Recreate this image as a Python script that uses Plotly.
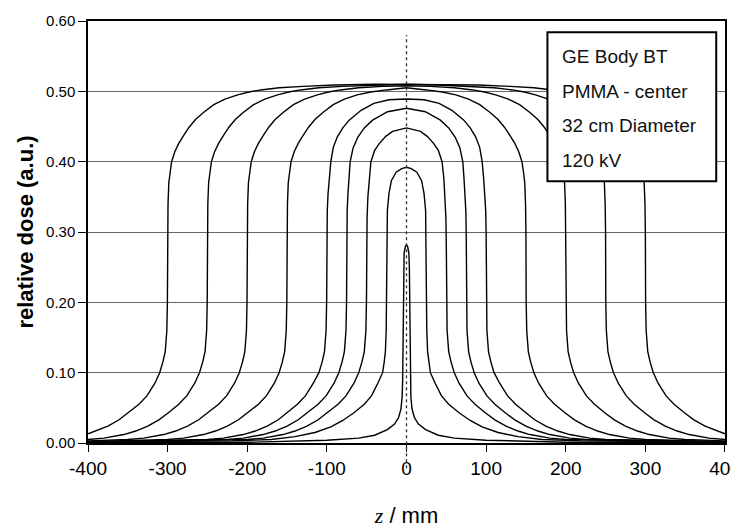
import plotly.graph_objects as go

# ---- data: left half (z <= 0) of each symmetric dose profile ----
z_w300 = [-400, -375, -361, -349, -336, -326, -316, -310, -306, -303, -301, -300.3, -300,
          -299.5, -298.5, -297, -295, -291, -286, -280, -273, -265, -255, -242, -228, -212,
          -198, -183, -160, -130, -90, -40, 0]
d_w300 = [0.013, 0.024, 0.033, 0.043, 0.055, 0.067, 0.085, 0.10, 0.115, 0.13, 0.16, 0.20, 0.30,
          0.34, 0.37, 0.385, 0.40, 0.414, 0.426, 0.437, 0.449, 0.460, 0.470, 0.481, 0.489, 0.495,
          0.499, 0.502, 0.505, 0.507, 0.509, 0.51, 0.51]

z_w250 = [-400, -380, -355, -340, -325, -311, -299, -286, -276, -266, -260, -256, -253, -251, -250.3, -250,
          -249.5, -248.5, -247, -245, -241, -236, -230, -223, -215, -205, -192, -178, -162, -148,
          -133, -110, -80, -40, 0]
d_w250 = [0.005, 0.007, 0.012, 0.017, 0.024, 0.033, 0.043, 0.055, 0.067, 0.085, 0.10, 0.115, 0.13, 0.16, 0.20, 0.30,
          0.34, 0.37, 0.385, 0.40, 0.414, 0.426, 0.437, 0.449, 0.460, 0.470, 0.481, 0.489, 0.495, 0.499,
          0.502, 0.505, 0.507, 0.509, 0.51]

z_w200 = [-400, -350, -330, -305, -290, -275, -261, -249, -236, -226, -216, -210, -206, -203, -201, -200.3, -200,
          -199.5, -198.5, -197, -195, -191, -186, -180, -173, -165, -155, -142, -128, -112, -98, -83,
          -60, -30, 0]
d_w200 = [0.003, 0.005, 0.007, 0.012, 0.017, 0.024, 0.033, 0.043, 0.055, 0.067, 0.085, 0.10, 0.115, 0.13, 0.16, 0.20, 0.30,
          0.34, 0.37, 0.385, 0.40, 0.414, 0.426, 0.437, 0.449, 0.460, 0.470, 0.481, 0.489, 0.495, 0.499, 0.502,
          0.505, 0.507, 0.508]

z_w150 = [-400, -300, -280, -255, -240, -225, -211, -199, -186, -176, -166, -160, -156, -153, -151, -150.3, -150,
          -149.5, -148.5, -147, -145, -141, -136, -130, -123, -115, -105, -92, -78, -62, -45, -25, 0]
d_w150 = [0.002, 0.005, 0.007, 0.012, 0.017, 0.024, 0.033, 0.043, 0.055, 0.067, 0.085, 0.10, 0.115, 0.13, 0.16, 0.20, 0.30,
          0.34, 0.37, 0.385, 0.40, 0.414, 0.426, 0.437, 0.449, 0.460, 0.470, 0.481, 0.489, 0.495, 0.499, 0.502, 0.505]

z_w100 = [-400, -250, -230, -205, -190, -175, -161, -150, -137, -127, -117, -110, -106, -103, -101, -100.3, -100,
          -99.5, -98.5, -97, -95, -92, -87, -80, -72, -57, -41, -22, 0]
d_w100 = [0.001, 0.005, 0.007, 0.012, 0.017, 0.024, 0.033, 0.043, 0.055, 0.067, 0.085, 0.10, 0.115, 0.13, 0.16, 0.20, 0.30,
          0.33, 0.355, 0.375, 0.40, 0.42, 0.435, 0.448, 0.459, 0.473, 0.483, 0.488, 0.489]

z_w75 = [-400, -225, -205, -180, -165, -150, -136, -124, -111, -101, -91, -85, -81, -78, -76, -75.3, -75,
         -74.5, -73.5, -72.3, -70.7, -67, -61, -53, -42.6, -23.7, 0]
d_w75 = [0.001, 0.005, 0.007, 0.012, 0.017, 0.024, 0.033, 0.043, 0.055, 0.067, 0.085, 0.10, 0.115, 0.13, 0.16, 0.20, 0.30,
         0.33, 0.355, 0.375, 0.40, 0.42, 0.435, 0.448, 0.459, 0.471, 0.476]

z_w50 = [-400, -200, -180, -155, -140, -125, -111, -99, -86, -76, -66, -60, -56, -53, -51, -50.3, -50,
         -49.5, -48.5, -47, -44.7, -40, -34, -26, -17.5, 0]
d_w50 = [0.001, 0.005, 0.007, 0.012, 0.017, 0.024, 0.033, 0.043, 0.055, 0.067, 0.085, 0.10, 0.115, 0.13, 0.16, 0.20, 0.28,
         0.32, 0.35, 0.375, 0.40, 0.416, 0.426, 0.436, 0.443, 0.448]

z_w25 = [-400, -220, -170, -140, -115, -95, -80, -66, -53, -44, -36, -30, -28, -26.5, -25.5, -25, -24.5,
         -24, -22, -19, -13, -6, 0]
d_w25 = [0.001, 0.003, 0.005, 0.009, 0.015, 0.023, 0.032, 0.043, 0.055, 0.067, 0.085, 0.10, 0.115, 0.13, 0.16, 0.20, 0.27,
         0.331, 0.355, 0.373, 0.385, 0.39, 0.392]

z_w5 = [-400, -200, -100, -60, -40, -24, -15, -10, -7, -5.5, -4.8, -4.3, -4, -3.6, -3, -1.5, 0]
d_w5 = [0.0, 0.001, 0.004, 0.007, 0.011, 0.019, 0.027, 0.036, 0.048, 0.065, 0.09, 0.14, 0.20, 0.25, 0.27, 0.279, 0.282]

profiles = [(z_w300, d_w300), (z_w250, d_w250), (z_w200, d_w200), (z_w150, d_w150),
            (z_w100, d_w100), (z_w75, d_w75), (z_w50, d_w50), (z_w25, d_w25), (z_w5, d_w5)]

y_ticks = [0.0, 0.1, 0.2, 0.3, 0.4, 0.5, 0.6]
x_ticks = [-400, -300, -200, -100, 0, 100, 200, 300, 400]
info_lines = ["GE Body BT", "PMMA - center", "32 cm Diameter", "120 kV"]

FONT = "Arial, Liberation Sans, sans-serif"

fig = go.Figure()
for z, d in profiles:
    xs = list(z) + [-v for v in reversed(z[:-1])]
    ys = list(d) + list(reversed(d[:-1]))
    fig.add_trace(go.Scatter(x=xs, y=ys, mode="lines", line=dict(color="black", width=1.4),
                             hoverinfo="skip", showlegend=False))

# dashed centre line
fig.add_shape(type="line", xref="x", yref="paper", x0=0, x1=0, y0=-0.06, y1=0.967,
              line=dict(color="#333", width=1.3, dash="3px,3px"), layer="above")

# info box
fig.add_shape(type="rect", xref="x", yref="y", x0=177, x1=389, y0=0.372, y1=0.584,
              fillcolor="white", line=dict(color="black", width=2), layer="above")
for i, t in enumerate(info_lines):
    fig.add_annotation(x=193, y=0.549 - i * 0.049, xref="x", yref="y", text=t, showarrow=False,
                       xanchor="left", yanchor="middle", font=dict(family=FONT, size=19, color="#111"))

# the page body has an 8px margin, so the figure is sized/offset to compensate
fig.update_layout(
    width=731, height=520,
    margin=dict(l=80, r=14, t=13, b=85),
    plot_bgcolor="white", paper_bgcolor="white",
    font=dict(family=FONT, color="black"),
)
fig.update_xaxes(range=[-400, 400.01], tickvals=x_ticks, ticktext=[str(v) for v in x_ticks],
                 showgrid=False, zeroline=False, showline=True, linecolor="black", linewidth=1.5,
                 mirror=True, ticks="outside", ticklen=7, tickcolor="black", automargin=False,
                 ticklabeloverflow="allow",
                 tickfont=dict(size=19, family=FONT),
                 title=dict(text="<span style='font-family:Times New Roman, Liberation Serif, serif'><i>z</i></span> / mm",
                            font=dict(size=22, family=FONT), standoff=38))
fig.update_yaxes(range=[0, 0.6], tickvals=y_ticks, ticktext=["%.2f" % v for v in y_ticks],
                 showgrid=True, gridcolor="#666", gridwidth=1.2, zeroline=False,
                 showline=True, linecolor="black", linewidth=1.5, mirror=True,
                 ticks="outside", ticklen=8, tickcolor="black", automargin=False,
                 tickfont=dict(size=15, family=FONT),
                 title=dict(text="<b>relative dose (a.u.)</b>", font=dict(size=22, family=FONT), standoff=6))

fig.write_html("out.html")
